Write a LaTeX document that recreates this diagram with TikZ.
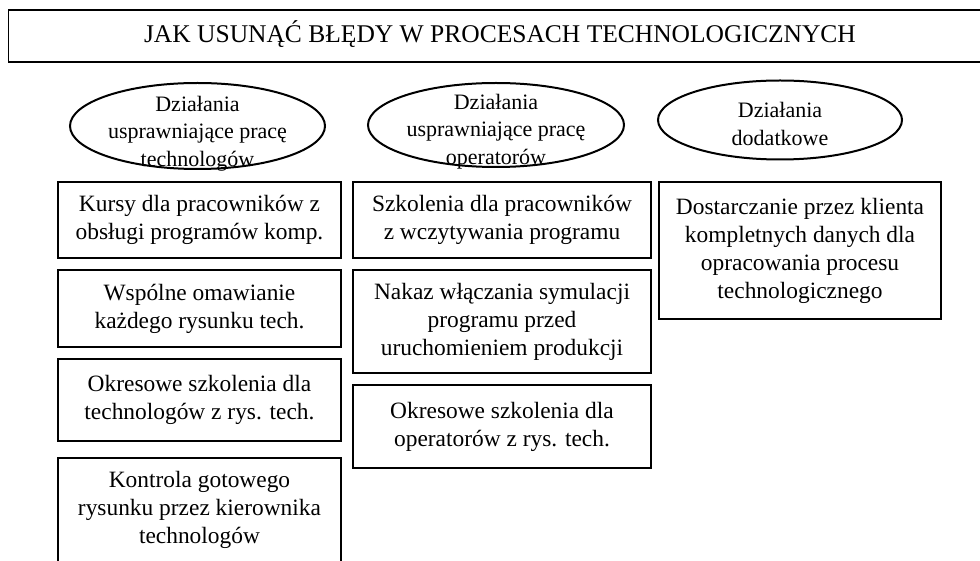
\documentclass[tikz,border=0pt]{standalone}
\usepackage{fontspec}
\setmainfont{Liberation Serif}
\usetikzlibrary{shapes.geometric}
\begin{document}
\begin{tikzpicture}[x=1pt,y=-1pt,
  boxstyle/.style={draw=black, line width=1.3pt, rectangle, inner sep=0pt, align=center,
    font=\fontsize{23.4}{28}\selectfont},
  ellstyle/.style={draw=black, line width=2pt, ellipse, inner sep=0pt},
  elltext/.style={align=center, inner sep=0pt, font=\fontsize{22}{27.5}\selectfont}]
\useasboundingbox (0,0) rectangle (980,561);
\fill[white] (0,0) rectangle (980,561);
% title
\node[draw=black, line width=1.4pt, rectangle, inner sep=0pt, minimum width=990pt, minimum height=52pt,
  anchor=north west] (title) at (8,9.5) {};
\node[inner sep=0pt, font=\fontsize{25.5}{30}\selectfont] (titletext) at (500,34) {JAK USUNĄĆ BŁĘDY W PROCESACH TECHNOLOGICZNYCH};
% ellipses
\node[ellstyle, minimum width=255pt, minimum height=86pt] (e1) at (197.5,126) {};
\node[elltext] (e1t) at (197.5,133.5) {Działania\\usprawniające pracę\\technologów};
\node[ellstyle, minimum width=256pt, minimum height=84pt] (e2) at (496,125) {};
\node[elltext] (e2t) at (496,131.5) {Działania\\usprawniające pracę\\operatorów};
\node[ellstyle, minimum width=244pt, minimum height=79pt] (e3) at (780,120) {};
\node[elltext] (e3t) at (780,124) {Działania\\dodatkowe};
% column 1
\node[boxstyle, minimum width=283pt, minimum height=76pt] (a1) at (199.5,220) {Kursy dla pracowników z\\obsługi programów komp.};
\node[boxstyle, minimum width=283pt, minimum height=77pt] (a2) at (199.5,308.5) {Wspólne omawianie\\każdego rysunku tech.};
\node[boxstyle, minimum width=283pt, minimum height=82pt] (a3) at (199.5,400) {Okresowe szkolenia dla\\technologów z rys. tech.};
\node[boxstyle, minimum width=283pt, minimum height=104pt] (a4) at (199.5,510) {Kontrola gotowego\\rysunku przez kierownika\\technologów};
% column 2
\node[boxstyle, minimum width=298pt, minimum height=76pt] (b1) at (502,220) {Szkolenia dla pracowników\\z wczytywania programu};
\node[boxstyle, minimum width=298pt, minimum height=103pt] (b2) at (502,321.5) {Nakaz włączania symulacji\\programu przed\\uruchomieniem produkcji};
\node[boxstyle, minimum width=298pt, minimum height=83pt] (b3) at (502,426.5) {Okresowe szkolenia dla\\operatorów z rys. tech.};
% column 3
\node[boxstyle, minimum width=282pt, minimum height=137pt] (c1) at (800,250.5) {Dostarczanie przez klienta\\kompletnych danych dla\\opracowania procesu\\technologicznego};
\end{tikzpicture}
\end{document}
